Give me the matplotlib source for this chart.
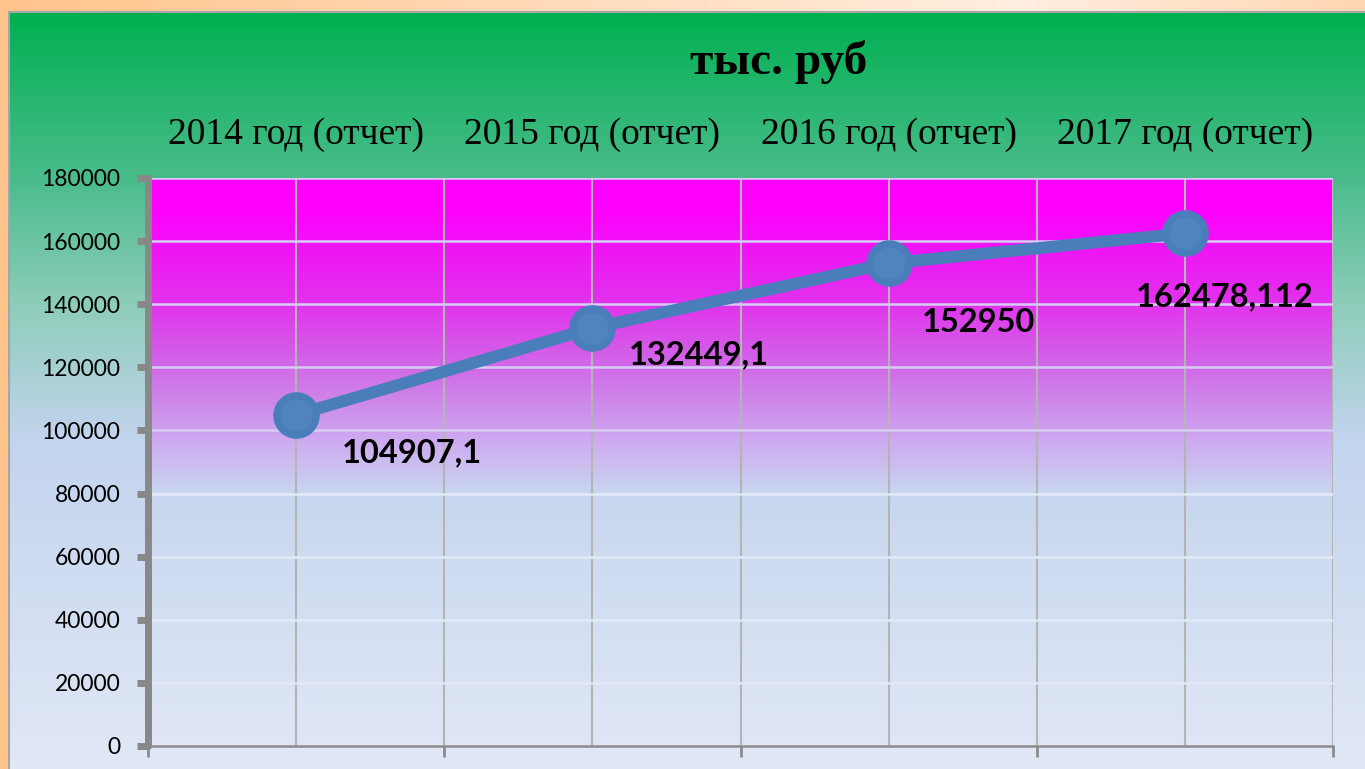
import numpy as np
import matplotlib
matplotlib.use("Agg")
import matplotlib.pyplot as plt
from matplotlib.patches import Rectangle

# data
categories = ["2014 год (отчет)", "2015 год (отчет)", "2016 год (отчет)", "2017 год (отчет)"]
values = [104907.1, 132449.1, 152950, 162478.112]
value_labels = ["104907,1", "132449,1", "152950", "162478,112"]
label_offsets = [(116, -38), (106, -27), (90, -59), (40, -64)]  # pixels from point
y_ticks = [0, 20000, 40000, 60000, 80000, 100000, 120000, 140000, 160000, 180000]
title = "тыс. руб"

W, H = 1365, 769
fig = plt.figure(figsize=(W / 100, H / 100), dpi=100)

# outer peach frame
bg = fig.add_axes([0, 0, 1, 1], zorder=-10)
bg.axis("off")
xs = np.linspace(0, 1, 256)
frame = np.zeros((2, 256, 3))
left_c = np.array([255, 196, 140]) / 255
mid_c = np.array([255, 238, 224]) / 255
right_c = np.array([255, 214, 178]) / 255
for i, t in enumerate(xs):
    if t < 0.75:
        c = left_c + (mid_c - left_c) * (t / 0.75)
    else:
        c = mid_c + (right_c - mid_c) * ((t - 0.75) / 0.25)
    frame[:, i] = c
bg.imshow(frame, extent=[0, 1, 0, 1], aspect="auto")

# green -> lavender panel
stops = [(0.0, (0, 176, 80)), (0.22, (75, 188, 140)), (0.38, (140, 205, 185)),
         (0.56, (195, 212, 238)), (1.0, (226, 232, 246))]
py = np.linspace(0, 1, 400)
panel = np.zeros((400, 1, 3))
for k in range(3):
    panel[:, 0, k] = np.interp(py, [s[0] for s in stops], [s[1][k] for s in stops]) / 255
px0, py_top = 9 / W, 1 - 12 / H
bg.imshow(panel, extent=[px0, 1.01, -0.01, py_top], aspect="auto", zorder=1)
bg.add_patch(Rectangle((px0, -0.01), 1.02 - px0, py_top + 0.01, fill=False,
                       edgecolor="#A6A6A6", lw=1.5, zorder=2))
bg.set_xlim(0, 1)
bg.set_ylim(0, 1)

# chart area
ax = fig.add_axes([148 / W, 23 / H, (1333 - 148) / W, (746 - 178) / H])
ax.set_facecolor("none")
ax.set_xlim(0, 4)
ax.set_ylim(0, 180000)

# magenta fill fading out toward the lower part
fy = np.linspace(0, 180000, 300)
fill = np.zeros((300, 1, 4))
fill[:, 0, 0] = 1.0
fill[:, 0, 1] = 0.0
fill[:, 0, 2] = 1.0
fill[:, 0, 3] = np.interp(fy, [80000, 105000, 140000, 170000, 180000], [0, 0.3, 0.75, 1, 1])
ax.imshow(fill, extent=[0, 4, 0, 180000], origin="lower", aspect="auto", zorder=0)

# horizontal gridlines: lavender over the magenta, near-white below
for t in y_ticks[1:]:
    gc = "#D6CCF4" if t >= 100000 else "#E3E9F7"
    ax.axhline(t, color=gc, lw=1.8, zorder=1)

x = np.arange(len(values)) + 0.5
ax.plot(x, values, color="#4A7EBB", lw=8.6, solid_capstyle="round", zorder=3)
ax.plot(x, values, "o", ms=32.5, mfc="#4A7EBB", mec="#4A7EBB", zorder=4)
ax.plot(x, values, "o", ms=23, mfc="#5084BF", mec="none", zorder=5)

for xi, v, lab, off in zip(x, values, value_labels, label_offsets):
    ax.annotate(lab, (xi, v), xytext=off, textcoords="offset pixels",
                ha="center", va="center", fontsize=23.5, fontweight="bold",
                family="Lato", color="black", zorder=6)

# axes styling
ax.set_yticks(y_ticks)
ax.set_yticklabels([str(t) for t in y_ticks], family="Lato", fontsize=16.5)
ax.set_xticks(x)
ax.set_xticklabels(categories, family="Liberation Serif", fontsize=27)
ax.set_xticks(np.arange(5), minor=True)
ax.tick_params(axis="x", which="major", top=True, labeltop=True, bottom=False,
               labelbottom=False, length=0, pad=19)
ax.tick_params(axis="x", which="minor", bottom=True, top=False, length=8,
               width=2, color="#8C8C8C", direction="out")
ax.tick_params(axis="y", length=8, width=5, color="#888888", pad=12)

ax.grid(axis="x", which="both", color="#B4B4B4", lw=1.5, zorder=1)
ax.set_axisbelow(True)

for s in ["top", "right"]:
    ax.spines[s].set_visible(False)
ax.spines["left"].set_color("#888888")
ax.spines["left"].set_linewidth(5)
ax.spines["left"].set_capstyle("round")
ax.spines["bottom"].set_color("#8C8C8C")
ax.spines["bottom"].set_linewidth(1.8)

fig.text(779 / W, 1 - 62 / H, title, ha="center", va="center",
         family="Liberation Serif", fontweight="bold", fontsize=34)

fig.savefig("out.png", dpi=100)
